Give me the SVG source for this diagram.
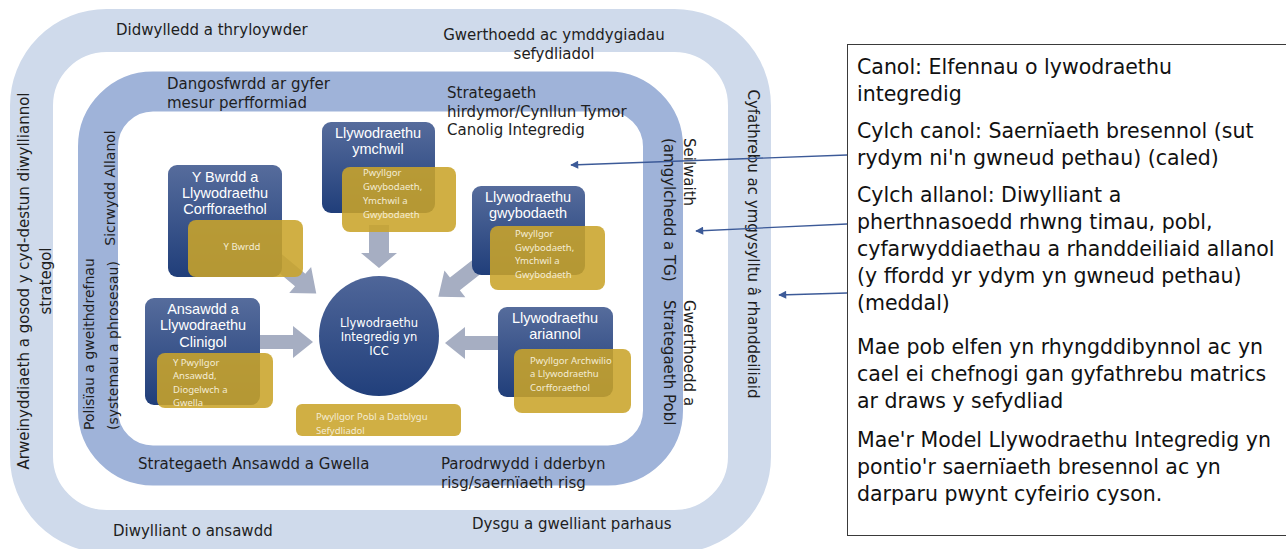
<svg xmlns="http://www.w3.org/2000/svg" width="1286" height="549" viewBox="0 0 1286 549">
<defs>
  <linearGradient id="gBlue" x1="0" y1="0" x2="0" y2="1">
    <stop offset="0" stop-color="#566c9c"/>
    <stop offset="1" stop-color="#203e7a"/>
  </linearGradient>
  <linearGradient id="gCircle" x1="0" y1="0" x2="0" y2="1">
    <stop offset="0" stop-color="#4f6699"/>
    <stop offset="1" stop-color="#213f7b"/>
  </linearGradient>
  <marker id="ah" viewBox="0 0 10 10" refX="9" refY="5" markerWidth="11" markerHeight="8" markerUnits="userSpaceOnUse" orient="auto">
    <path d="M0,0 L10,5 L0,10 z" fill="#3c5a98"/>
  </marker>
  <path id="arrowShape" d="M0,-8 L42,-8 L42,-17 L63,0 L42,17 L42,8 L0,8 Z"/>
</defs>
<style>
  .band{font-family:"DejaVu Sans",Verdana,sans-serif;font-size:15px;fill:#1e1e1e}
  .sm{font-size:14px}
  .node{fill:url(#gBlue)}
  .title{font-family:"Liberation Sans",Arial,sans-serif;font-size:14.5px;fill:#ffffff;text-anchor:middle}
  .gold{fill:#c9a42a;fill-opacity:0.88}
  .gt{font-family:"Noto Sans","Open Sans",sans-serif;font-size:9.5px;fill:#f4ecd4}
  .arr{fill:#a6aec2}
  .ctext{font-family:"DejaVu Sans",Verdana,sans-serif;font-size:11.5px;fill:#ffffff;text-anchor:middle}
  .panel{font-family:"DejaVu Sans",Verdana,sans-serif;font-size:20.5px;fill:#111111}
  .conn{stroke:#3c5a98;stroke-width:1.3;fill:none;marker-end:url(#ah)}
</style>
<rect x="0" y="0" width="1286" height="549" fill="#ffffff"/>

<g id="bands">
  <rect x="31.5" y="30.5" width="718" height="501" rx="75" fill="none" stroke="#cfdaeb" stroke-width="43"/>
  <rect x="98" y="91.5" width="565" height="374" rx="55" fill="none" stroke="#9fb3d9" stroke-width="40"/>
</g>

<g id="outer-labels" class="band">
  <text x="116" y="35">Didwylledd a thryloywder</text>
  <text text-anchor="middle"><tspan x="554" y="40">Gwerthoedd ac ymddygiadau</tspan><tspan x="554" y="59">sefydliadol</tspan></text>
  <text transform="translate(29,281) rotate(-90)" text-anchor="middle"><tspan x="0" y="0">Arweinyddiaeth a gosod y cyd-destun diwylliannol</tspan><tspan x="0" y="22">strategol</tspan></text>
  <text transform="translate(748,244) rotate(90)" text-anchor="middle">Cyfathrebu ac ymgysylltu â rhanddeiliaid</text>
  <text x="113" y="536">Diwylliant o ansawdd</text>
  <text x="472" y="529">Dysgu a gwelliant parhaus</text>
</g>

<g id="middle-labels" class="band">
  <text><tspan x="167" y="89">Dangosfwrdd ar gyfer</tspan><tspan x="167" y="108">mesur perfformiad</tspan></text>
  <text><tspan x="447" y="98">Strategaeth</tspan><tspan x="447" y="117">hirdymor/Cynllun Tymor</tspan><tspan x="447" y="135">Canolig Integredig</tspan></text>
  <text class="sm" transform="translate(115,188) rotate(-90)" text-anchor="middle">Sicrwydd Allanol</text>
  <text class="sm" transform="translate(94,430) rotate(-90)"><tspan x="0" y="0">Polisïau a gweithdrefnau</tspan><tspan x="0" y="24">(systemau a phrosesau)</tspan></text>
  <text transform="translate(684,138) rotate(90)"><tspan x="0" y="0">Seilwaith</tspan><tspan x="0" y="20">(amgylchedd a TG)</tspan></text>
  <text transform="translate(684,300) rotate(90)"><tspan x="0" y="0">Gwerthoedd a</tspan><tspan x="0" y="20">Strategaeth Pobl</tspan></text>
  <text x="138" y="469">Strategaeth Ansawdd a Gwella</text>
  <text><tspan x="441" y="469">Parodrwydd i dderbyn</tspan><tspan x="441" y="488">risg/saernïaeth risg</tspan></text>
</g>

<g id="block-arrows" class="arr">
  <path d="M0,-10 L28,-10 L28,-18 L43,0 L28,18 L28,10 L0,10 Z" transform="translate(379,225) rotate(90)"/>
  <path d="M0,-7 L38,-7 L38,-16 L58,0 L38,16 L38,7 L0,7 Z" transform="translate(255,342)"/>
  <path d="M0,-7 L40,-7 L40,-16 L60,0 L40,16 L40,7 L0,7 Z" transform="translate(505,343) rotate(180)"/>
  <use href="#arrowShape" transform="translate(268,253) rotate(40)"/>
  <use href="#arrowShape" transform="translate(488,258) rotate(142)"/>
</g>

<g id="node-bwrdd">
  <rect class="node" x="168" y="165" width="114" height="112" rx="9"/>
  <text class="title"><tspan x="225" y="181.5">Y Bwrdd a</tspan><tspan x="225" y="197.8">Llywodraethu</tspan><tspan x="225" y="214.1">Corfforaethol</tspan></text>
  <rect class="gold" x="188" y="220" width="115" height="57" rx="8"/>
  <text class="gt" x="242" y="250" text-anchor="middle">Y Bwrdd</text>
</g>

<g id="node-ymchwil">
  <rect class="node" x="322" y="122" width="113" height="91" rx="9"/>
  <text class="title"><tspan x="378" y="138">Llywodraethu</tspan><tspan x="378" y="154.3">ymchwil</tspan></text>
  <rect class="gold" x="342" y="167" width="114" height="65" rx="8"/>
  <text class="gt"><tspan x="363" y="176">Pwyllgor</tspan><tspan x="363" y="190">Gwybodaeth,</tspan><tspan x="363" y="204">Ymchwil a</tspan><tspan x="363" y="218">Gwybodaeth</tspan></text>
</g>

<g id="node-gwybodaeth">
  <rect class="node" x="472" y="186" width="113" height="89" rx="9"/>
  <text class="title"><tspan x="528" y="201.5">Llywodraethu</tspan><tspan x="528" y="217.8">gwybodaeth</tspan></text>
  <rect class="gold" x="490" y="226" width="115" height="64" rx="8"/>
  <text class="gt"><tspan x="515" y="237">Pwyllgor</tspan><tspan x="515" y="250.5">Gwybodaeth,</tspan><tspan x="515" y="264">Ymchwil a</tspan><tspan x="515" y="277.5">Gwybodaeth</tspan></text>
</g>

<g id="node-ansawdd">
  <rect class="node" x="145" y="298" width="115" height="107" rx="9"/>
  <text class="title"><tspan x="203" y="314">Ansawdd a</tspan><tspan x="203" y="330.3">Llywodraethu</tspan><tspan x="203" y="346.6">Clinigol</tspan></text>
  <rect class="gold" x="157" y="353" width="116" height="55" rx="8"/>
  <text class="gt"><tspan x="173" y="365.5">Y Pwyllgor</tspan><tspan x="173" y="379">Ansawdd,</tspan><tspan x="173" y="392.5">Diogelwch a</tspan><tspan x="173" y="406">Gwella</tspan></text>
</g>

<g id="node-ariannol">
  <rect class="node" x="498" y="307" width="115" height="90" rx="9"/>
  <text class="title"><tspan x="555" y="322.5">Llywodraethu</tspan><tspan x="555" y="338.8">ariannol</tspan></text>
  <rect class="gold" x="514" y="349" width="117" height="64" rx="8"/>
  <text class="gt"><tspan x="530" y="363.5">Pwyllgor  Archwilio</tspan><tspan x="530" y="377">a Llywodraethu</tspan><tspan x="530" y="390.5">Corfforaethol</tspan></text>
</g>

<g id="node-centre">
  <circle cx="379" cy="336" r="60" fill="url(#gCircle)"/>
  <text class="ctext"><tspan x="379" y="327">Llywodraethu</tspan><tspan x="379" y="341">Integredig yn</tspan><tspan x="379" y="355">ICC</tspan></text>
</g>

<g id="node-pobl">
  <rect class="gold" x="296" y="404" width="165" height="32" rx="6"/>
  <text class="gt"><tspan x="316" y="420">Pwyllgor  Pobl a Datblygu</tspan><tspan x="316" y="433.5">Sefydliadol</tspan></text>
</g>

<g id="legend-panel">
  <rect x="847.5" y="44.5" width="442" height="491" fill="#ffffff" stroke="#3a3a3a" stroke-width="1"/>
  <text class="panel"><tspan x="857" y="74">Canol: Elfennau o lywodraethu</tspan><tspan x="857" y="101">integredig</tspan></text>
  <text class="panel"><tspan x="857" y="138">Cylch canol: Saernïaeth bresennol (sut</tspan><tspan x="857" y="165">rydym ni'n gwneud pethau) (caled)</tspan></text>
  <text class="panel"><tspan x="857" y="202">Cylch allanol: Diwylliant a</tspan><tspan x="857" y="229">pherthnasoedd rhwng timau, pobl,</tspan><tspan x="857" y="256">cyfarwyddiaethau a rhanddeiliaid allanol</tspan><tspan x="857" y="283">(y ffordd yr ydym yn gwneud pethau)</tspan><tspan x="857" y="310">(meddal)</tspan></text>
  <text class="panel"><tspan x="857" y="354">Mae pob elfen yn rhyngddibynnol ac yn</tspan><tspan x="857" y="381">cael ei chefnogi gan gyfathrebu matrics</tspan><tspan x="857" y="408">ar draws y sefydliad</tspan></text>
  <text class="panel"><tspan x="857" y="447">Mae'r Model Llywodraethu Integredig yn</tspan><tspan x="857" y="474">pontio'r saernïaeth bresennol ac yn</tspan><tspan x="857" y="501">darparu pwynt cyfeirio cyson.</tspan></text>
</g>

<g id="connectors">
  <line class="conn" x1="847" y1="155" x2="571" y2="165"/>
  <line class="conn" x1="847" y1="224" x2="696" y2="231"/>
  <line class="conn" x1="847" y1="293" x2="779" y2="295"/>
</g>
</svg>
